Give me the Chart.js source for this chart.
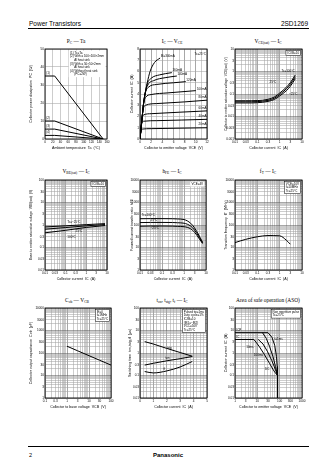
<!DOCTYPE html>
<html>
<head>
<meta charset="utf-8">
<title>2SD1269</title>
<script src="https://cdn.jsdelivr.net/npm/chart.js@4.4.1/dist/chart.umd.min.js"></script>
<style>
  html, body { margin: 0; padding: 0; background: #fff; }
  #page { position: relative; width: 336px; height: 474px; overflow: hidden; font-family: "Liberation Sans", Arial, sans-serif; color: #000; }
  .abs { position: absolute; white-space: nowrap; }
  .hdr { font-size: 6.5px; line-height: 7px; }
  .rule { position: absolute; left: 28px; width: 281px; height: 1px; background: #000; }
  .ttl { position: absolute; width: 120px; margin-left: -60px; text-align: center; font-family: "Liberation Serif", serif; font-size: 5.4px; line-height: 6px; white-space: nowrap; }
  .ttl sub { font-size: 3.6px; vertical-align: -1px; line-height: 0; }
  canvas { position: absolute; }
</style>
</head>
<body>
<div id="page">
  <div class="abs hdr" style="left:29px;top:20px">Power Transistors</div>
  <div class="abs hdr" style="right:28px;top:20px">2SD1269</div>
  <div class="rule" style="top:28px;height:1.3px"></div>

  <div class="ttl" style="left:76px;top:38px">P<sub>C</sub> — Ta</div>
  <div class="ttl" style="left:172px;top:38px">I<sub>C</sub> — V<sub>CE</sub></div>
  <div class="ttl" style="left:268px;top:38px">V<sub>CE(sat)</sub> — I<sub>C</sub></div>

  <div class="ttl" style="left:76px;top:168px">V<sub>BE(sat)</sub> — I<sub>C</sub></div>
  <div class="ttl" style="left:172px;top:168px">h<sub>FE</sub> — I<sub>C</sub></div>
  <div class="ttl" style="left:268px;top:168px">f<sub>T</sub> — I<sub>C</sub></div>

  <div class="ttl" style="left:77px;top:297px">C<sub>ob</sub> — V<sub>CB</sub></div>
  <div class="ttl" style="left:172px;top:297px">t<sub>on</sub>, t<sub>stg</sub>, t<sub>f</sub> — I<sub>C</sub></div>
  <div class="ttl" style="left:268px;top:297px">Area of safe operation (ASO)</div>

  <div class="rule" style="top:446px;height:1.3px"></div>
  <div class="abs" style="left:29px;top:452px;font-size:5.5px">2</div>
  <div class="abs" style="left:168px;top:452px;font-size:6px;font-weight:bold;transform:translateX(-50%)">Panasonic</div>
</div>

<script>
// PC - Ta
const ta = [0, 25, 150];
const pc1 = [35, 35, 0];
const pc2 = [10, 10, 0];
const pc3 = [5.5, 5.5, 0];
const pc4 = [2, 2, 0];

// IC - VCE  (VCE, IC) per base current
const ib300 = [[0,0],[0.2,1],[0.4,2],[0.6,3],[0.9,4],[1.3,5],[1.8,6],[2.6,6.8],[3.6,7.2]];
const ib160 = [[0,0],[0.2,1],[0.4,2],[0.6,3],[0.9,4],[1.3,4.9],[2,5.4],[3.5,5.7],[5.7,5.9]];
const ib140 = [[0,0],[0.2,1],[0.4,2],[0.6,3],[0.9,4],[1.4,4.8],[2.5,5.2],[4.5,5.45],[6.6,5.6]];
const ib120 = [[0,0],[0.2,1],[0.4,2],[0.6,3],[0.9,4],[1.5,4.6],[3,4.85],[6,5],[8.2,5.1]];
const ib100 = [[0,0],[0.2,1],[0.4,2],[0.6,3],[1,3.7],[2,3.95],[5,4.1],[10,4.3]];
const ib80 = [[0,0],[0.2,1],[0.4,2],[0.6,2.7],[1,3],[3,3.15],[8,3.3],[12,3.45]];
const ib60 = [[0,0],[0.2,1],[0.4,1.9],[0.7,2.15],[2,2.25],[7,2.38],[12,2.5]];
const ib40 = [[0,0],[0.2,1],[0.35,1.45],[0.7,1.58],[3,1.63],[12,1.75]];
const ib20 = [[0,0],[0.2,0.8],[0.4,0.88],[2,0.92],[12,1.0]];

// VCE(sat) - IC
const icSat = [0.01, 0.03, 0.1, 0.3, 0.6, 1, 2, 3, 5];
const vceSat100 = [0.05, 0.05, 0.051, 0.058, 0.075, 0.11, 0.2, 0.32, 0.7];
const vceSat25 = [0.045, 0.045, 0.046, 0.052, 0.066, 0.095, 0.17, 0.27, 0.58];
const vceSatM25 = [0.04, 0.04, 0.041, 0.047, 0.058, 0.082, 0.14, 0.22, 0.48];

// VBE(sat) - IC
const icBe = [0.01, 0.1, 1, 8];
const vbeM25 = [0.82, 0.92, 1.04, 1.15];
const vbe25 = [0.65, 0.77, 0.92, 1.05];
const vbe100 = [0.45, 0.58, 0.78, 0.95];

// hFE - IC
const icHfe = [0.01, 0.03, 0.1, 0.3, 0.5, 1, 2, 3, 5, 7];
const hfe100 = [190, 192, 192, 190, 186, 175, 120, 75, 32, 17];
const hfe25 = [128, 130, 130, 129, 126, 120, 90, 60, 28, 16];
const hfeM25 = [88, 90, 90, 89, 87, 84, 68, 48, 24, 15];

// fT - IC
const icFt = [0.01, 0.03, 0.1, 0.3, 1, 2, 3];
const ft = [16.5, 23, 30, 34, 33, 21, 14];

// Cob - VCB
const vcb = [1, 3, 10, 30, 100];
const cob = [200, 126, 76, 48, 29];

// ton, tstg, tf - IC
const icSw = [0.35, 1, 2, 3, 3.9];
const tstg = [3.2, 2.5, 1.6, 1.05, 0.72];
const ton = [0.29, 0.35, 0.45, 0.56, 0.7];
const tf = [0.15, 0.13, 0.16, 0.24, 0.42];

// ASO  (VCE, IC)
const asoIcp = [[1, 8], [30, 8]];
const asoIc = [[1, 4], [7, 4]];
const aso1ms = [[30, 8], [45, 5], [60, 2.2], [72, 0.7], [78, 0.25], [80, 0.1]];
const aso10ms = [[17, 8], [25, 4.5], [35, 2], [50, 0.7], [65, 0.25], [80, 0.1]];
const aso100ms = [[11, 4], [18, 2.5], [28, 1.2], [45, 0.45], [65, 0.18], [80, 0.1]];
const asoDc = [[7, 4], [12, 2], [20, 0.9], [35, 0.35], [55, 0.16], [80, 0.1]];
const asoVceo = [[80, 0.1], [80, 0.01]];

// ---------------------------------------------------------------
const page = document.getElementById('page');
const H = 90;
const tickFont = { family: 'Liberation Sans', size: 3.1 };

const pts = (xs, ys) => xs.map((x, i) => ({ x, y: ys[i] }));
const pairs = a => a.map(([x, y]) => ({ x, y }));

function curve(data, smooth) {
  return {
    data, borderColor: '#000', borderWidth: 1, pointRadius: 0, fill: false,
    tension: smooth ? 0.4 : 0,
    cubicInterpolationMode: smooth ? 'monotone' : 'default'
  };
}

function logTicks(min, max) {
  const out = [];
  for (let e = Math.floor(Math.log10(min)); e <= Math.ceil(Math.log10(max)); e++) {
    for (let m = 1; m < 10; m++) {
      const v = +(m * Math.pow(10, e)).toPrecision(6);
      if (v >= min * 0.999 && v <= max * 1.001) out.push(v);
    }
  }
  return out;
}
function mant(v) {
  return Math.round(v / Math.pow(10, Math.floor(Math.log10(v) + 1e-9)));
}

function axisTitle(text, size) {
  return { display: true, text, color: '#000', padding: 0, font: { family: 'Liberation Sans', size: size || 3.6 } };
}

function logAxis(min, max, title, size) {
  return {
    type: 'logarithmic', min, max,
    afterBuildTicks: s => { s.ticks = logTicks(min, max).map(value => ({ value })); },
    ticks: {
      autoSkip: false, maxRotation: 0, padding: 1, font: tickFont, color: '#000',
      callback: v => (mant(v) === 1 || mant(v) === 3) ? String(+(+v).toPrecision(3)) : ''
    },
    grid: { color: c => (c.tick && mant(c.tick.value) === 1) ? '#5e5e5e' : '#a4a4a4', lineWidth: 0.55, drawTicks: false },
    border: { display: false },
    title: axisTitle(title, size)
  };
}

function linAxis(min, max, step, title, show, major, size) {
  return {
    type: 'linear', min, max,
    ticks: {
      stepSize: step, autoSkip: false, maxRotation: 0, padding: 1, font: tickFont, color: '#000',
      callback: v => show(v) ? String(v) : ''
    },
    grid: { color: c => (c.tick && major(c.tick.value)) ? '#5e5e5e' : '#a4a4a4', lineWidth: 0.55, drawTicks: false },
    border: { display: false },
    title: axisTitle(title, size)
  };
}

// frame, curve labels and condition boxes
const sheet = {
  id: 'sheet',
  afterDatasetsDraw(chart, args, o) {
    const { ctx, chartArea: a, scales } = chart;
    ctx.save();
    ctx.font = '3px "Liberation Sans"';
    ctx.textBaseline = 'middle';
    ctx.fillStyle = '#000';
    (o.labels || []).forEach(l => {
      ctx.textAlign = l.align || 'left';
      ctx.fillText(l.text, scales.x.getPixelForValue(l.x), scales.y.getPixelForValue(l.y));
    });
    if (o.box) {
      const lh = 3.6, pad = 1.4;
      const lines = o.box.lines;
      const tw = Math.max(...lines.map(t => ctx.measureText(t).width));
      const bw = tw + pad * 2, bh = lines.length * lh + pad;
      const bx = a.right - bw - 1.5, by = a.top + 1.5;
      ctx.fillStyle = '#fff';
      ctx.fillRect(bx, by, bw, bh);
      if (o.box.border) {
        ctx.lineWidth = 0.5;
        ctx.strokeStyle = '#000';
        ctx.strokeRect(bx, by, bw, bh);
      }
      ctx.fillStyle = '#000';
      ctx.textAlign = 'left';
      lines.forEach((t, i) => ctx.fillText(t, bx + pad, by + pad / 2 + lh * (i + 0.5)));
    }
    ctx.lineWidth = 0.9;
    ctx.strokeStyle = '#000';
    ctx.strokeRect(a.left, a.top, a.width, a.height);
    ctx.restore();
  }
};

function makeChart(p) {
  const padT = 3, padR = 5, xH = 11;
  const cv = document.createElement('canvas');
  cv.width = p.axisW + p.w + padR;
  cv.height = padT + H + xH;
  cv.style.left = (p.left - p.axisW) + 'px';
  cv.style.top = (p.top - padT) + 'px';
  page.appendChild(cv);
  p.x.afterFit = s => { s.height = xH; s.paddingLeft = 0; s.paddingRight = 0; };
  p.y.afterFit = s => { s.width = p.axisW; s.paddingTop = 0; s.paddingBottom = 0; };
  new Chart(cv, {
    type: 'line',
    data: { datasets: p.datasets },
    options: {
      responsive: false,
      animation: false,
      devicePixelRatio: 1,
      layout: { padding: { top: padT, right: padR, left: 0, bottom: 0 } },
      plugins: { legend: { display: false }, tooltip: { enabled: false }, sheet: p.notes || {} },
      scales: { x: p.x, y: p.y }
    },
    plugins: [sheet]
  });
}

const C1 = 45, C2 = 140, C3 = 235;
const R1 = 49, R2 = 180, R3 = 308;
const all = () => true;

// PC - Ta
makeChart({
  left: C1, top: R1, w: 62, axisW: 16,
  x: linAxis(0, 160, 20, 'Ambient temperature  Ta  (°C)', all, () => false),
  y: linAxis(0, 50, 10, 'Collector power dissipation  PC  (W)', all, () => false),
  datasets: [pc1, pc2, pc3, pc4].map(s => curve(pts(ta, s), false)),
  notes: {
    labels: [
      { x: 3, y: 36.8, text: '(1)' }, { x: 3, y: 11.8, text: '(2)' },
      { x: 3, y: 7.3, text: '(3)' }, { x: 3, y: 3.6, text: '(4)' }
    ],
    box: { border: false, lines: ['(1) Tc=Ta', '(2) With a 100×100×2mm', '     Al heat sink', '(3) With a 50×50×2mm', '     Al heat sink', '(4) Without heat sink', '     (PC=2W)'] }
  }
});

// IC - VCE
makeChart({
  left: C2, top: R1, w: 67, axisW: 10,
  x: linAxis(0, 12, 1, 'Collector to emitter voltage  VCE  (V)', v => v % 2 === 0, v => v % 2 === 0),
  y: linAxis(0, 8, 1, 'Collector current  IC  (A)', all, () => false),
  datasets: [ib300, ib160, ib140, ib120, ib100, ib80, ib60, ib40, ib20].map(s => curve(pairs(s), true)),
  notes: {
    labels: [
      { x: 11.8, y: 7.55, text: 'Tc=25°C', align: 'right' },
      { x: 3.7, y: 7.35, text: 'IB=300mA' },
      { x: 5.8, y: 6.1, text: '160mA' },
      { x: 6.7, y: 5.75, text: '140mA' },
      { x: 8.3, y: 5.25, text: '120mA' },
      { x: 11.9, y: 4.45, text: '100mA', align: 'right' },
      { x: 11.9, y: 3.72, text: '80mA', align: 'right' },
      { x: 11.9, y: 2.78, text: '60mA', align: 'right' },
      { x: 11.9, y: 2.03, text: '40mA', align: 'right' },
      { x: 11.9, y: 1.28, text: '20mA', align: 'right' }
    ]
  }
});

// VCE(sat) - IC
makeChart({
  left: C3, top: R1, w: 67, axisW: 11,
  x: logAxis(0.01, 10, 'Collector current  IC  (A)'),
  y: logAxis(0.001, 10, 'Collector to emitter saturation voltage  VCE(sat)  (V)', 3.2),
  datasets: [vceSat100, vceSat25, vceSatM25].map(s => curve(pts(icSat, s), true)),
  notes: {
    labels: [
      { x: 1.2, y: 1.0, text: 'Tc=100°C' },
      { x: 0.35, y: 0.33, text: '25°C' },
      { x: 2.6, y: 0.1, text: '−25°C' }
    ],
    box: { border: true, lines: ['IC/IB=10'] }
  }
});

// VBE(sat) - IC
makeChart({
  left: C1, top: R2, w: 62, axisW: 16,
  x: logAxis(0.01, 10, 'Collector current  IC  (A)'),
  y: logAxis(0.01, 100, 'Base to emitter saturation voltage  VBE(sat)  (V)', 3.3),
  datasets: [vbeM25, vbe25, vbe100].map(s => curve(pts(icBe, s), true)),
  notes: {
    labels: [
      { x: 0.12, y: 1.3, text: 'Tc=−25°C' },
      { x: 0.3, y: 0.52, text: '25°C' },
      { x: 0.12, y: 0.3, text: '100°C' }
    ],
    box: { border: true, lines: ['IC/IB=10'] }
  }
});

// hFE - IC
makeChart({
  left: C2, top: R2, w: 66, axisW: 10,
  x: logAxis(0.01, 10, 'Collector current  IC  (A)'),
  y: logAxis(1, 10000, 'Forward current transfer ratio  hFE', 3.4),
  datasets: [hfe100, hfe25, hfeM25].map(s => curve(pts(icHfe, s), true)),
  notes: {
    labels: [
      { x: 0.012, y: 280, text: 'Tc=100°C' },
      { x: 0.03, y: 158, text: '25°C' },
      { x: 0.03, y: 70, text: '−25°C' }
    ],
    box: { border: false, lines: ['VCE=4V'] }
  }
});

// fT - IC
makeChart({
  left: C3, top: R2, w: 67, axisW: 11,
  x: logAxis(0.01, 10, 'Collector current  IC  (A)'),
  y: logAxis(1, 10000, 'Transition frequency  fT  (MHz)'),
  datasets: [curve(pts(icFt, ft), true)],
  notes: { box: { border: true, lines: ['VCE=10V', 'f=10MHz', 'Tc=25°C'] } }
});

// Cob - VCB
makeChart({
  left: C1, top: R3, w: 66, axisW: 16,
  x: logAxis(0.1, 100, 'Collector to base voltage  VCB  (V)'),
  y: logAxis(1, 10000, 'Collector output capacitance  Cob  (pF)'),
  datasets: [curve(pts(vcb, cob), true)],
  notes: { box: { border: true, lines: ['IE=0', 'f=1MHz', 'Tc=25°C'] } }
});

// ton, tstg, tf - IC
makeChart({
  left: C2, top: R3, w: 67, axisW: 12,
  x: linAxis(0, 5, 0.25, 'Collector current  IC  (A)', v => Number.isInteger(v), v => Number.isInteger(v)),
  y: logAxis(0.01, 100, 'Switching time  ton,tstg,tf  (µs)'),
  datasets: [tstg, ton, tf].map(s => curve(pts(icSw, s), true)),
  notes: {
    labels: [
      { x: 2.0, y: 1.7, text: 'tstg' },
      { x: 1.9, y: 0.6, text: 'ton' },
      { x: 1.75, y: 0.19, text: 'tf' }
    ],
    box: { border: true, lines: ['Pulsed tw=1ms', 'Duty cycle=1%', 'IC/IB=10', '(IB1=−IB2)', 'VCC=50V', 'Tc=25°C'] }
  }
});

// ASO
makeChart({
  left: C3, top: R3, w: 67, axisW: 11,
  x: logAxis(1, 1000, 'Collector to emitter voltage  VCE  (V)'),
  y: logAxis(0.01, 100, 'Collector current  IC  (A)'),
  datasets: [asoIcp, asoIc, aso1ms, aso10ms, aso100ms, asoDc, asoVceo].map(s => curve(pairs(s), false)),
  notes: {
    labels: [
      { x: 1.15, y: 10.3, text: 'ICP' },
      { x: 1.15, y: 5.2, text: 'IC' },
      { x: 58, y: 4.2, text: 't=1ms' },
      { x: 3.2, y: 1.8, text: '10ms' },
      { x: 7, y: 0.8, text: '100ms' },
      { x: 22, y: 0.2, text: 'DC' }
    ],
    box: { border: true, lines: ['Non repetitive pulse', 'Tc=25°C'] }
  }
});
</script>
</body>
</html>
